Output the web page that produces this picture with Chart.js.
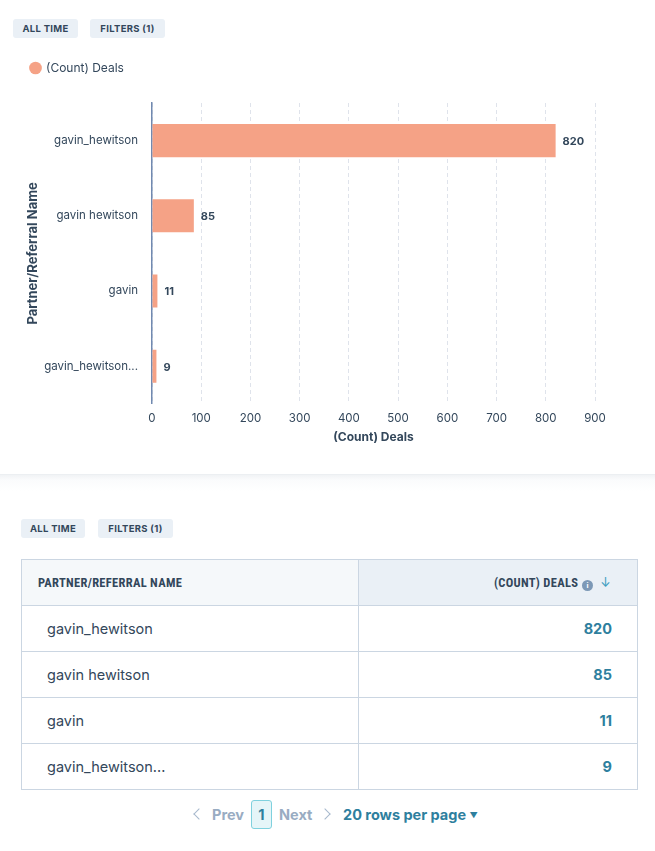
<!DOCTYPE html>
<html>
<head>
<meta charset="utf-8">
<script src="https://cdn.jsdelivr.net/npm/chart.js@4.4.0/dist/chart.umd.min.js"></script>
<style>
	body { margin: 0; width: 655px; height: 851px; background: #fff; font-family: Inter, 'Noto Sans', sans-serif; color: #33475b; position: relative; overflow: hidden; }
	.chip { position: absolute; height: 19px; line-height: 19px; background: #eaf0f6; border-radius: 3px; font-size: 9.5px; font-weight: 700; letter-spacing: 0.3px; text-align: center; color: #33475b; }
	#chart-wrap { position: absolute; left: 0; top: 52px; width: 655px; height: 400px; }
	.divider { position: absolute; left: 0; width: 655px; top: 474px; height: 16px; background: linear-gradient(#f1f3f5, #fafbfc 30%, #fff); border-top: 1px solid #eceff2; }
	table { position: absolute; left: 21px; top: 559px; width: 617px; border-collapse: collapse; font-size: 14.5px; }
	th, td { border: 1px solid #cbd6e2; height: 45px; padding: 0 25px; }
	th { font-family: 'Liberation Sans Narrow', 'Roboto Condensed', Roboto, sans-serif; font-weight: 700; font-size: 12.5px; letter-spacing: 0.3px; text-align: left; height: 45px; background: #f5f8fa; padding-left: 16px; }
	th.sorted { background: #eaf0f6; text-align: right; padding-right: 26px; }
	td.num { text-align: right; font-weight: 700; color: #2e7f9e; }
	.info { display: inline-block; width: 11px; height: 11px; border-radius: 50%; background: #7c98b6; color: #fff; font-size: 8px; line-height: 11px; text-align: center; vertical-align: -1px; font-weight: 700; margin-left: 4px; }
	.arrow { color: #3d9ec0; margin-left: 7px; font-family: Inter, sans-serif; font-weight: 400; }
	.pager { position: absolute; top: 800px; left: 0; width: 655px; height: 29px; font-size: 14.5px; font-weight: 700; }
	.pager span { position: absolute; top: 6px; }
	.chev { position: absolute; top: 10px; width: 7px; height: 7px; border-left: 1.5px solid #a6b8cc; border-bottom: 1.5px solid #a6b8cc; }
	.page-box { position: absolute; left: 251px; top: 0; width: 19px; height: 27px; line-height: 27px; border: 1px solid #7fd1de; background: #e5f5f8; border-radius: 3px; text-align: center; color: #2e7f9e; }
</style>
</head>
<body>
<div class="chip" style="left:13px;top:19px;width:65px;">ALL TIME</div>
<div class="chip" style="left:90px;top:19px;width:75px;">FILTERS (1)</div>
<div id="chart-wrap"><canvas id="chartjs-canvas"></canvas></div>
<div class="divider"></div>
<div class="chip" style="left:21px;top:519px;width:64px;">ALL TIME</div>
<div class="chip" style="left:98px;top:519px;width:75px;">FILTERS (1)</div>
<table id="data-table">
	<thead><tr><th style="width:295px;">PARTNER/REFERRAL NAME</th><th class="sorted">(COUNT) DEALS<span class="info">i</span><span class="arrow">&#8595;</span></th></tr></thead>
	<tbody></tbody>
</table>
<div class="pager">
	<div class="chev" style="left:195px;transform:rotate(45deg);"></div>
	<span style="left:212px;color:#99acc2;">Prev</span>
	<div class="page-box">1</div>
	<span style="left:279px;color:#99acc2;">Next</span>
	<div class="chev" style="left:321px;transform:rotate(-135deg);"></div>
	<span style="left:343px;color:#2e7f9e;">20 rows per page <span style="position:static;font-size:8px;vertical-align:2px;">&#9660;</span></span>
</div>
<script>
const names = ['gavin_hewitson', 'gavin hewitson', 'gavin', 'gavin_hewitson...'];
const deals = [820, 85, 11, 9];
const seriesLabel = '(Count) Deals';
const xTicks = [0, 100, 200, 300, 400, 500, 600, 700, 800, 900];

const fontFamily = 'Inter, "Noto Sans", sans-serif';
const textColor = '#33475b';

// table rows from the same arrays
const tbody = document.querySelector('#data-table tbody');
names.forEach((name, i) => {
	const tr = document.createElement('tr');
	tr.innerHTML = `<td>${name}</td><td class="num">${deals[i]}</td>`;
	tbody.appendChild(tr);
});

const valueLabels = {
	id: 'valueLabels',
	afterDatasetsDraw(chart) {
		const ctx = chart.ctx;
		const meta = chart.getDatasetMeta(0);
		ctx.save();
		ctx.font = `700 11px ${fontFamily}`;
		ctx.fillStyle = textColor;
		ctx.textBaseline = 'middle';
		meta.data.forEach((bar, i) => {
			ctx.fillText(deals[i], bar.x + 7, bar.y + 1);
		});
		ctx.restore();
	}
};

const legendMargin = {
	id: 'legendMargin',
	beforeInit(chart) {
		const fit = chart.legend.fit;
		chart.legend.fit = function() {
			fit.bind(chart.legend)();
			this.height += 19;
		};
	}
};

const config = {
	type: 'bar',
	data: {
		labels: names,
		datasets: [{
			label: seriesLabel,
			data: deals,
			backgroundColor: '#f5a286',
			borderWidth: 0,
			barPercentage: 0.44,
			categoryPercentage: 1
		}]
	},
	options: {
		indexAxis: 'y',
		responsive: true,
		maintainAspectRatio: false,
		animation: false,
		layout: { padding: { left: 21, right: 60, top: 0, bottom: 3 } },
		plugins: {
			legend: {
				position: 'top',
				align: 'start',
				labels: {
					usePointStyle: true,
					pointStyle: 'circle',
					boxWidth: 9,
					boxHeight: 9,
					color: textColor,
					font: { family: fontFamily, size: 12 }
				}
			},
			tooltip: { enabled: false }
		},
		scales: {
			x: {
				min: 0,
				max: 900,
				afterBuildTicks: axis => { axis.ticks = xTicks.map(v => ({ value: v })); },
				grid: {
					color: '#dfe3eb',
					drawTicks: false
				},
				border: { display: false, dash: [4, 3] },
				ticks: {
					padding: 8,
					color: textColor,
					font: { family: fontFamily, size: 11.5 }
				},
				title: {
					display: true,
					text: seriesLabel,
					color: textColor,
					padding: { top: -3, bottom: 4 },
					font: { family: fontFamily, size: 12, weight: 'bold' }
				}
			},
			y: {
				afterFit: scale => { scale.width = 131; },
				grid: { display: false, drawTicks: false },
				border: { display: true, color: '#7189b0', width: 1.5 },
				ticks: {
					padding: 14,
					color: textColor,
					font: { family: fontFamily, size: 11.5 }
				},
				title: {
					display: true,
					text: 'Partner/Referral Name',
					color: textColor,
					padding: { top: 4, bottom: 0 },
					font: { family: fontFamily, size: 13, weight: 'bold' }
				}
			}
		}
	},
	plugins: [valueLabels, legendMargin]
};

new Chart(document.getElementById('chartjs-canvas'), config);
</script>
</body>
</html>
